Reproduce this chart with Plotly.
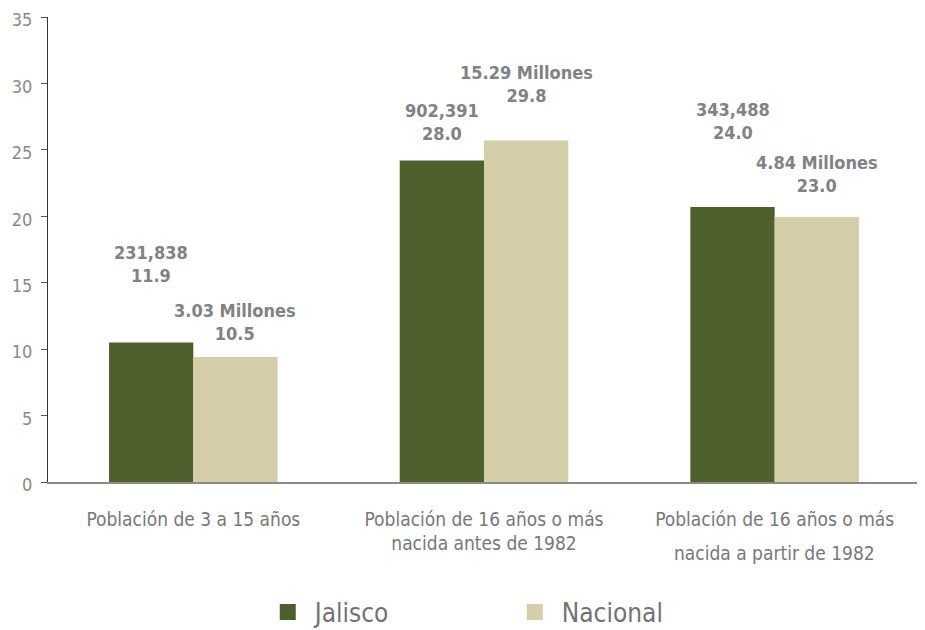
import plotly.graph_objects as go

categories = ["Población de 3 a 15 años",
              "Población de 16 años o más<br>nacida antes de 1982",
              "Población de 16 años o más<br>nacida a partir de 1982"]
jalisco_values = [10.5, 24.2, 20.7]
nacional_values = [9.4, 25.7, 19.95]
jalisco_labels = ["231,838<br>11.9", "902,391<br>28.0", "343,488<br>24.0"]
nacional_labels = ["3.03 Millones<br>10.5", "15.29 Millones<br>29.8", "4.84 Millones<br>23.0"]

# label offsets above bars (px)
jalisco_shift = [55, 14, 62]
nacional_shift = [11, 33, 19]

FONT = "Liberation Sans Narrow, DejaVu Sans Condensed, Arial Narrow, sans-serif"
LABEL_COLOR = "#808285"
CAT_COLOR = "#77787b"
JAL_COLOR = "#4F602C"
NAC_COLOR = "#D4CFA9"

# third category label is drawn with a wider gap between its two lines
tick_text = list(categories)
cat3_first, cat3_second = categories[2].split("<br>")
tick_text[2] = cat3_first

fig = go.Figure()
fig.add_trace(go.Bar(name="Jalisco", x=categories, y=jalisco_values, showlegend=False,
                     marker=dict(color=JAL_COLOR, line=dict(width=0))))
fig.add_trace(go.Bar(name="Nacional", x=categories, y=nacional_values, showlegend=False,
                     marker=dict(color=NAC_COLOR, line=dict(width=0))))
# legend entries with larger square swatches
fig.add_trace(go.Scatter(name="Jalisco", x=[None], y=[None], mode="markers",
                         marker=dict(symbol="square", size=20, color=JAL_COLOR)))
fig.add_trace(go.Scatter(name="Nacional", x=[None], y=[None], mode="markers",
                         marker=dict(symbol="square", size=20, color=NAC_COLOR)))

for i, c in enumerate(categories):
    fig.add_annotation(x=c, y=jalisco_values[i], xshift=-42, yshift=jalisco_shift[i],
                       text="<b>" + jalisco_labels[i] + "</b>", showarrow=False,
                       yanchor="bottom", xanchor="center",
                       font=dict(family=FONT, size=18, color=LABEL_COLOR))
    fig.add_annotation(x=c, y=nacional_values[i], xshift=42, yshift=nacional_shift[i],
                       text="<b>" + nacional_labels[i] + "</b>", showarrow=False,
                       yanchor="bottom", xanchor="center",
                       font=dict(family=FONT, size=18, color=LABEL_COLOR))

fig.add_annotation(x=categories[2], y=0, yshift=-71, text=cat3_second, showarrow=False,
                   yanchor="middle", xanchor="center",
                   font=dict(family=FONT, size=19, color=CAT_COLOR))

fig.update_layout(
    width=925, height=630,
    margin=dict(l=40, r=13, t=9, b=156),
    plot_bgcolor="white", paper_bgcolor="white",
    barmode="group", bargap=0.42, bargroupgap=0,
    font=dict(family=FONT, color="#808080"),
    showlegend=True,
    legend=dict(orientation="h", x=0.244, xanchor="left",
                yref="container", y=0.041, yanchor="middle",
                font=dict(family=FONT, size=26, color="#717275"),
                itemwidth=44, entrywidth=188),
    xaxis=dict(showline=True, linecolor="#8a8a8a", linewidth=1.5, ticks="",
               tickmode="array", tickvals=categories, ticktext=tick_text,
               ticklabelstandoff=19, automargin=False,
               tickfont=dict(family=FONT, size=19, color=CAT_COLOR),
               showgrid=False),
    yaxis=dict(range=[0, 35], dtick=5, showline=True, linecolor="#333333", linewidth=1,
               ticks="outside", ticklen=6, tickcolor="#555555", automargin=False,
               ticklabelstandoff=5, ticklabeloverflow="allow", ticklabelshift=3,
               tickfont=dict(family=FONT, size=18, color="#8a8a8a"),
               showgrid=False, zeroline=False),
)

fig.write_html("out.html")
